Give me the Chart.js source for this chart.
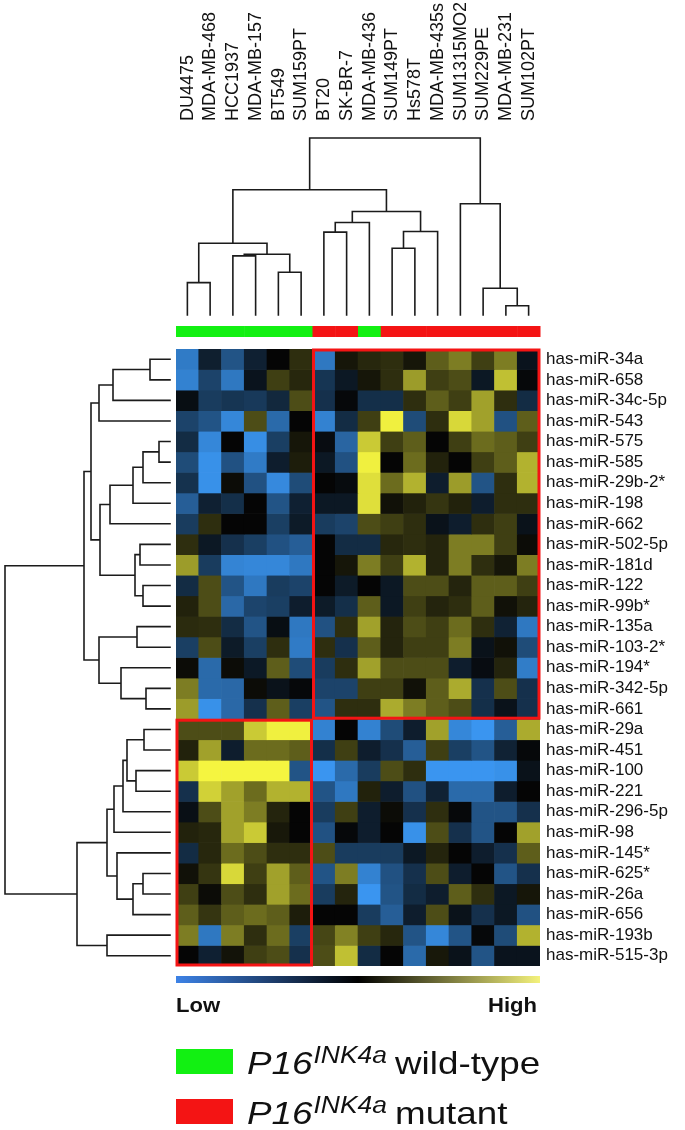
<!DOCTYPE html>
<html>
<head>
<meta charset="utf-8">
<script src="https://cdn.jsdelivr.net/npm/chart.js@4.4.0/dist/chart.umd.min.js"></script>
<style>
  html, body { margin: 0; padding: 0; background: #fff; }
  #wrap { width: 685px; height: 1130px; }
</style>
</head>
<body>
<div id="wrap"><canvas id="heat" width="685" height="1130"></canvas></div>
<script>
// Cell lines (columns), in dendrogram order
const cellLines = ['DU4475', 'MDA-MB-468', 'HCC1937', 'MDA-MB-157', 'BT549', 'SUM159PT',
  'BT20', 'SK-BR-7', 'MDA-MB-436', 'SUM149PT', 'Hs578T', 'MDA-MB-435s',
  'SUM1315MO2', 'SUM229PE', 'MDA-MB-231', 'SUM102PT'];

// P16INK4a status per cell line
const p16Status = ['wt', 'wt', 'wt', 'wt', 'wt', 'wt', 'mut', 'mut', 'wt',
  'mut', 'mut', 'mut', 'mut', 'mut', 'mut', 'mut'];

// miRNAs (rows)
const mirnas = ['has-miR-34a', 'has-miR-658', 'has-miR-34c-5p', 'has-miR-543', 'has-miR-575',
  'has-miR-585', 'has-miR-29b-2*', 'has-miR-198', 'has-miR-662', 'has-miR-502-5p',
  'has-miR-181d', 'has-miR-122', 'has-miR-99b*', 'has-miR-135a', 'has-miR-103-2*',
  'has-miR-194*', 'has-miR-342-5p', 'has-miR-661', 'has-miR-29a', 'has-miR-451',
  'has-miR-100', 'has-miR-221', 'has-miR-296-5p', 'has-miR-98', 'has-miR-145*',
  'has-miR-625*', 'has-miR-26a', 'has-miR-656', 'has-miR-193b', 'has-miR-515-3p'];

// relative expression, -1 (low) .. 1 (high); one row per miRNA, one value per cell line
const expr = [
  [-0.82,-0.18,-0.55,-0.19, 0.00, 0.17,-0.80, 0.07, 0.14, 0.17, 0.07, 0.37, 0.50, 0.24, 0.50,-0.10],
  [-0.87,-0.43,-0.80,-0.10, 0.24, 0.14,-0.33,-0.13, 0.07, 0.17, 0.63, 0.24, 0.30,-0.13, 0.78,-0.02],
  [-0.06,-0.38,-0.33,-0.36,-0.24, 0.30,-0.30,-0.02,-0.29,-0.29, 0.17, 0.37, 0.24, 0.65, 0.17,-0.27],
  [-0.43,-0.55,-0.90, 0.30,-0.70, 0.00,-0.87,-0.27, 0.24, 0.98,-0.49, 0.17, 0.88, 0.65,-0.53, 0.37],
  [-0.27,-0.90, 0.00,-0.95,-0.40, 0.07,-0.05,-0.67, 0.82, 0.24, 0.37, 0.00, 0.24, 0.43, 0.37, 0.24],
  [-0.49,-0.97,-0.53,-0.82,-0.17, 0.10,-0.13,-0.53, 0.98, 0.00, 0.43, 0.12, 0.00, 0.24, 0.37, 0.72],
  [-0.31,-0.97, 0.03,-0.53,-0.92,-0.49, 0.00,-0.04, 0.91, 0.43, 0.72,-0.17, 0.63,-0.55, 0.17, 0.72],
  [-0.62,-0.19,-0.29, 0.00,-0.55,-0.19,-0.13,-0.13, 0.91, 0.05, 0.12, 0.20, 0.12,-0.17, 0.17, 0.17],
  [-0.38, 0.17, 0.00, 0.00,-0.40,-0.15,-0.38,-0.43, 0.30, 0.24, 0.17,-0.09,-0.17, 0.17, 0.24,-0.09],
  [ 0.17,-0.13,-0.30,-0.40,-0.53,-0.62, 0.00,-0.27,-0.27, 0.14, 0.17, 0.13, 0.50, 0.50, 0.24, 0.03],
  [ 0.63,-0.38,-0.88,-0.90,-0.90,-0.80, 0.00, 0.07, 0.50, 0.24, 0.72, 0.13, 0.50, 0.17, 0.07, 0.50],
  [-0.27, 0.30,-0.55,-0.80,-0.38,-0.43, 0.00,-0.15, 0.00,-0.13, 0.30, 0.30, 0.13, 0.37, 0.37, 0.24],
  [ 0.12, 0.30,-0.69,-0.44,-0.40,-0.17,-0.15,-0.29, 0.37,-0.13, 0.24, 0.13, 0.17, 0.37, 0.05, 0.13],
  [ 0.16, 0.17,-0.27,-0.55,-0.06,-0.80,-0.53, 0.17, 0.65, 0.13, 0.30, 0.24, 0.43, 0.17,-0.20,-0.80],
  [-0.40, 0.30,-0.15,-0.40, 0.17,-0.82, 0.17,-0.30, 0.37, 0.13, 0.24, 0.24, 0.50,-0.09, 0.05,-0.49],
  [ 0.03,-0.70, 0.03,-0.14, 0.37,-0.49,-0.38, 0.17, 0.65, 0.30, 0.30, 0.30,-0.17,-0.05, 0.13,-0.83],
  [ 0.50,-0.70,-0.69, 0.03,-0.09,-0.02,-0.43,-0.43, 0.24, 0.24, 0.05, 0.37, 0.69,-0.30, 0.30,-0.30],
  [ 0.63,-0.97,-0.69,-0.30, 0.37,-0.40,-0.55, 0.17, 0.17, 0.69, 0.50, 0.37, 0.30,-0.29,-0.09,-0.30],
  [ 0.30, 0.30, 0.30, 0.82, 0.98, 0.98,-0.87, 0.00,-0.87,-0.49,-0.17, 0.65,-0.90,-1.00,-0.62, 0.69],
  [ 0.12, 0.65,-0.17, 0.43, 0.43, 0.37,-0.29, 0.24,-0.17,-0.30,-0.62, 0.24,-0.40,-0.55,-0.20,-0.02],
  [ 0.82, 1.00, 1.00, 1.00, 1.00,-0.55,-1.00,-0.70,-0.38, 0.30, 0.17,-1.00,-1.00,-1.00,-0.97,-0.09],
  [-0.30, 0.85, 0.65, 0.43, 0.72, 0.72,-0.55,-0.80, 0.12,-0.17,-0.53,-0.20,-0.70,-0.70,-0.17, 0.00],
  [-0.07, 0.30, 0.65, 0.50, 0.13, 0.00,-0.38, 0.24,-0.17, 0.03,-0.30, 0.17,-0.02,-0.55,-0.55,-0.30],
  [ 0.12, 0.14, 0.65, 0.82, 0.08, 0.00,-0.53,-0.02,-0.17, 0.00,-0.97, 0.30,-0.30,-0.55, 0.00, 0.65],
  [-0.27, 0.14, 0.43, 0.30, 0.17, 0.17, 0.30,-0.38,-0.38,-0.38,-0.13, 0.13, 0.00,-0.17,-0.30, 0.37],
  [ 0.05, 0.20, 0.88, 0.24, 0.65, 0.37,-0.55, 0.50,-0.87,-0.53,-0.30, 0.30,-0.17, 0.00,-0.55,-0.30],
  [ 0.24, 0.03, 0.30, 0.17, 0.65, 0.43,-0.38, 0.13,-1.00,-0.55,-0.27,-0.17, 0.37, 0.17,-0.13, 0.07],
  [ 0.37, 0.20, 0.37, 0.43, 0.37, 0.10, 0.00, 0.00,-0.38,-0.62,-0.17, 0.30,-0.09,-0.30,-0.13,-0.53],
  [ 0.50,-0.80, 0.50, 0.17, 0.43,-0.40, 0.27, 0.52, 0.24, 0.14,-0.55,-0.90,-0.55,-0.02,-0.49, 0.72],
  [ 0.00,-0.19, 0.06, 0.24, 0.30,-0.30, 0.30, 0.78,-0.27, 0.00,-0.70, 0.08,-0.09,-0.55,-0.10,-0.10]
];

// hierarchical clustering: [childA, childB, distance]; ids >= n are earlier merges
const colMerges = [
  [14, 15, 9.3], [13, 16, 26.7], [0, 1, 32.3], [4, 5, 42.7], [2, 3, 59.0],
  [20, 19, 60.7], [9, 10, 66.7], [18, 21, 71.7], [6, 7, 82.7], [22, 11, 83.3],
  [24, 8, 92.3], [26, 25, 103.3], [12, 17, 111.0], [23, 27, 125.0], [29, 28, 176.7]
];
const rowMerges = [
  [4, 5, 11], [0, 1, 20], [16, 17, 24], [18, 19, 26], [30, 6, 27],
  [11, 12, 27], [25, 26, 27], [9, 10, 30], [13, 14, 33], [20, 21, 34],
  [37, 35, 35], [34, 7, 37], [36, 27, 37], [33, 39, 43], [43, 22, 47],
  [15, 32, 49], [24, 42, 53], [44, 23, 56], [31, 2, 57], [41, 8, 60],
  [47, 46, 63], [28, 29, 63], [49, 40, 70], [48, 3, 71], [38, 45, 71],
  [53, 52, 79], [55, 54, 86], [50, 51, 93], [56, 57, 165]
];

// boxed blocks: [firstCol, lastCol+1, firstRow, lastRow+1]
const boxes = [[6, 16, 0, 18], [0, 6, 18, 30]];

const FONT = "Arial, 'Liberation Sans', sans-serif";
const RED = '#f41414';
const GREEN = '#12f012';

// blue - black - yellow colour map
function exprColor(v) {
  const t = Math.min(1, Math.abs(v));
  const c = v < 0 ? [58, 149, 240] : [245, 245, 64];
  const r = Math.round(5 + (c[0] - 5) * t);
  const g = Math.round(5 + (c[1] - 5) * t);
  const b = Math.round(5 + (c[2] - 5) * t);
  return `rgb(${r},${g},${b})`;
}

// draw a dendrogram; pt(pos, height) -> [x, y]
function drawTree(ctx, leafPos, merges, pt) {
  const pos = leafPos.slice();
  const ht = leafPos.map(() => 0);
  ctx.beginPath();
  merges.forEach(([a, b, h]) => {
    ctx.moveTo(...pt(pos[a], ht[a]));
    ctx.lineTo(...pt(pos[a], h));
    ctx.lineTo(...pt(pos[b], h));
    ctx.lineTo(...pt(pos[b], ht[b]));
    pos.push((pos[a] + pos[b]) / 2);
    ht.push(h);
  });
  ctx.stroke();
}

// text stretched horizontally like the original figure
function wideText(ctx, txt, x, y, font, sx) {
  ctx.save();
  ctx.font = font;
  ctx.translate(x, y);
  ctx.scale(sx, 1);
  ctx.fillText(txt, 0, 0);
  const w = ctx.measureText(txt).width * sx;
  ctx.restore();
  return w;
}

const decorations = {
  id: 'decorations',
  afterDraw(chart) {
    const { ctx, chartArea: area, scales } = chart;
    const xs = scales.x, ys = scales.y;
    const cw = (area.right - area.left) / cellLines.length;
    const colLeft = i => xs.getPixelForValue(i) - cw / 2;

    ctx.save();
    ctx.strokeStyle = '#1b1b1b';
    ctx.lineWidth = 1.6;
    ctx.lineCap = 'square';

    // column dendrogram
    const colBase = area.top - 34, colTop = 138;
    const colK = (colBase - colTop) / colMerges[colMerges.length - 1][2];
    drawTree(ctx, cellLines.map((_, i) => xs.getPixelForValue(i)), colMerges,
      (p, h) => [p, colBase - h * colK]);

    // row dendrogram
    const rowBase = area.left - 6, rowLeft = 5;
    const rowK = (rowBase - rowLeft) / rowMerges[rowMerges.length - 1][2];
    drawTree(ctx, mirnas.map((_, i) => ys.getPixelForValue(i + 0.5)), rowMerges,
      (p, h) => [rowBase - h * rowK, p]);

    // P16 status bar
    p16Status.forEach((s, i) => {
      ctx.fillStyle = s === 'wt' ? GREEN : RED;
      ctx.fillRect(colLeft(i), area.top - 23, cw + 0.5, 11);
    });

    // red boxes
    ctx.strokeStyle = RED;
    ctx.lineWidth = 3;
    boxes.forEach(([c0, c1, r0, r1]) => {
      const x0 = colLeft(c0) + 1, x1 = colLeft(c1 - 1) + cw - 1;
      const y0 = ys.getPixelForValue(r0) + 1, y1 = ys.getPixelForValue(r1) - 1;
      ctx.strokeRect(x0, y0, x1 - x0, y1 - y0);
    });

    // colour key
    const grad = ctx.createLinearGradient(area.left, 0, area.right, 0);
    grad.addColorStop(0, '#3d82e6');
    grad.addColorStop(0.5, '#000000');
    grad.addColorStop(1, '#f4f27c');
    ctx.fillStyle = grad;
    ctx.fillRect(area.left, area.bottom + 10, area.right - area.left, 7);

    ctx.fillStyle = '#111';
    ctx.textBaseline = 'alphabetic';
    ctx.textAlign = 'left';
    wideText(ctx, 'Low', area.left, area.bottom + 46, `bold 21px ${FONT}`, 1.05);
    ctx.font = `bold 21px ${FONT}`;
    const hw = ctx.measureText('High').width * 1.05;
    wideText(ctx, 'High', area.right - 3 - hw, area.bottom + 46, `bold 21px ${FONT}`, 1.05);

    // legend
    const legend = [[GREEN, 'wild-type', 1074], [RED, 'mutant', 1124]];
    legend.forEach(([col, txt, base]) => {
      ctx.fillStyle = col;
      ctx.fillRect(area.left, base - 25, 57, 25);
      ctx.fillStyle = '#111';
      const w = wideText(ctx, 'P16', 247, base, `italic 32px ${FONT}`, 1.15);
      wideText(ctx, 'INK4a', 247 + w + 1, base - 11, `italic 23px ${FONT}`, 1.15);
      wideText(ctx, txt, 395, base, `32px ${FONT}`, 1.15);
    });
    ctx.restore();
  }
};

const datasets = mirnas.map((name, r) => ({
  label: name,
  data: cellLines.map(() => [r, r + 1]),
  backgroundColor: expr[r].map(exprColor),
  borderWidth: 0,
  borderSkipped: false,
  grouped: false,
  barPercentage: 1,
  categoryPercentage: 1,
  xAxisID: 'x',
  yAxisID: 'y'
}));

new Chart(document.getElementById('heat'), {
  type: 'bar',
  data: { labels: cellLines, datasets },
  options: {
    responsive: false,
    animation: false,
    devicePixelRatio: 1,
    layout: { padding: { left: 176, right: 0, top: 0, bottom: 164 } },
    plugins: { legend: { display: false }, tooltip: { enabled: false } },
    scales: {
      x: {
        type: 'category',
        position: 'top',
        offset: true,
        grid: { display: false, drawTicks: true, tickLength: 228 },
        border: { display: false },
        ticks: {
          autoSkip: false, minRotation: 90, maxRotation: 90, padding: 0, labelOffset: 22,
          color: '#111', font: { family: FONT, size: 18 }
        },
        afterFit: s => { s.height = 349; }
      },
      y: { type: 'linear', min: 0, max: 30, reverse: true, display: false },
      y2: {
        type: 'category',
        labels: mirnas,
        position: 'right',
        offset: true,
        grid: { display: false, drawTicks: false },
        border: { display: false },
        ticks: { autoSkip: false, padding: 6, color: '#111', font: { family: FONT, size: 17 } },
        afterFit: s => { s.width = 145; }
      }
    }
  },
  plugins: [decorations]
});
</script>
</body>
</html>
